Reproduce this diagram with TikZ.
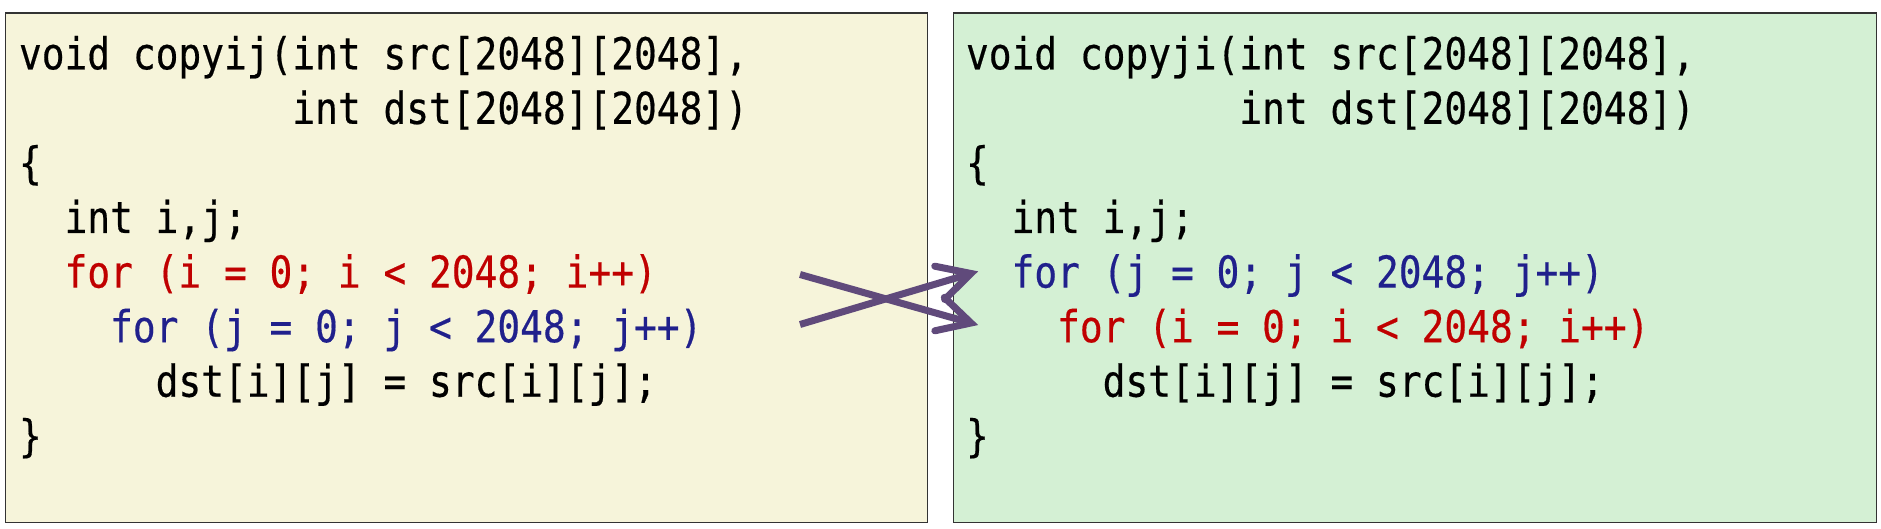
\documentclass[tikz,border=0pt]{standalone}
\usepackage{fontspec}
\usetikzlibrary{calc}
\newfontfamily\codefont{DejaVu Sans Mono}[FakeStretch=0.86,FakeBold=0.4]
\definecolor{codered}{RGB}{192,0,0}
\definecolor{codeblue}{RGB}{32,32,140}
\definecolor{panelyellow}{RGB}{246,244,218}
\definecolor{panelgreen}{RGB}{212,240,212}
\definecolor{arrowpurple}{RGB}{96,74,123}
\frenchspacing
\tikzset{
  panel/.style={draw=black!80, line width=1.3pt, anchor=north west, inner sep=0pt,
    minimum width=922pt, minimum height=509.5pt},
  code/.style={anchor=base west, inner sep=0pt, outer sep=0pt,
    font=\codefont\fontsize{44}{54.57}\selectfont, text=black},
  xshaft/.style={draw=arrowpurple, line width=7pt, line cap=butt},
  xhead/.style={draw=arrowpurple, line width=7pt, line cap=round, line join=miter}
}
\begin{document}
\begin{tikzpicture}[x=1pt,y=-1pt]
\useasboundingbox (0,0) rectangle (1881,529);
\node[panel, fill=panelyellow] (boxL) at (5,12.3) {};
\node[panel, fill=panelgreen, minimum width=923pt] (boxR) at (953,12.3) {};
% left code
\node[code] (l0) at (19,69.3) {void copyij(int src[2048][2048],};
\node[code] (l1) at (19,123.9) {\phantom{void copyij(}int dst[2048][2048])};
\node[code] (l2) at (19,178.4) {\{};
\node[code] (l3) at (19,233.0) {\phantom{xx}int i,j;};
\node[code, text=codered] (l4) at (19,287.6) {\phantom{xx}for (i = 0; i < 2048; i++)};
\node[code, text=codeblue] (l5) at (19,342.2) {\phantom{xxxx}for (j = 0; j < 2048; j++)};
\node[code] (l6) at (19,396.7) {\phantom{xxxxxx}dst[i][j] = src[i][j];};
\node[code] (l7) at (19,451.3) {\}};
% right code
\node[code] (r0) at (966,69.3) {void copyji(int src[2048][2048],};
\node[code] (r1) at (966,123.9) {\phantom{void copyji(}int dst[2048][2048])};
\node[code] (r2) at (966,178.4) {\{};
\node[code] (r3) at (966,233.0) {\phantom{xx}int i,j;};
\node[code, text=codeblue] (r4) at (966,287.6) {\phantom{xx}for (j = 0; j < 2048; j++)};
\node[code, text=codered] (r5) at (966,342.2) {\phantom{xxxx}for (i = 0; i < 2048; i++)};
\node[code] (r6) at (966,396.7) {\phantom{xxxxxx}dst[i][j] = src[i][j];};
\node[code] (r7) at (966,451.3) {\}};
% crossing arrows
\coordinate (s1) at (800,274.5);
\coordinate (t1) at (971,323);
\coordinate (s2) at (800,324.5);
\coordinate (t2) at (971,273.5);
\draw[xshaft] (s1) -- ($(t1)!3pt!(s1)$);
\draw[xshaft] (s2) -- ($(t2)!3pt!(s2)$);
\draw[xhead] ($(t1)!37pt!28:(s1)$) -- (t1) -- ($(t1)!37pt!-28:(s1)$);
\draw[xhead] ($(t2)!37pt!28:(s2)$) -- (t2) -- ($(t2)!37pt!-28:(s2)$);
\end{tikzpicture}
\end{document}
